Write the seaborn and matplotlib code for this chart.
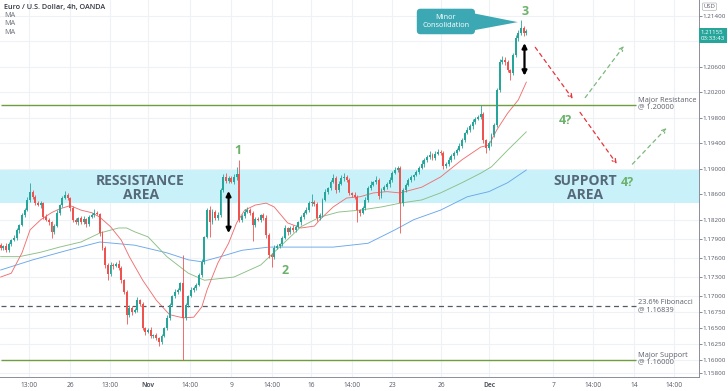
import matplotlib
matplotlib.use("Agg")
import numpy as np
import pandas as pd
import matplotlib.pyplot as plt
import seaborn as sns

# EUR/USD 4h candles (one close per bar, open = previous close)
first_open = 1.1780
closes = [
    1.1776, 1.1779, 1.1772, 1.1782, 1.1788, 1.1791, 1.1804, 1.1812, 1.1827, 1.1835,
    1.1851, 1.1864, 1.1856, 1.1846, 1.1843, 1.1846, 1.1824, 1.1820, 1.1816, 1.1801,
    1.1810, 1.1831, 1.1843, 1.1854, 1.1859, 1.1854, 1.1838, 1.1820, 1.1816, 1.1823,
    1.1816, 1.1821, 1.1813, 1.1824, 1.1827, 1.1831, 1.1829, 1.1799, 1.1776, 1.1749,
    1.1735, 1.1749, 1.1747, 1.1751, 1.1744, 1.1725, 1.1707, 1.1671, 1.1682, 1.1675,
    1.1678, 1.1694, 1.1688, 1.1650, 1.1644, 1.1647, 1.1638, 1.1639, 1.1634, 1.1628,
    1.1638, 1.1650, 1.1666, 1.1686, 1.1700, 1.1707, 1.1710, 1.1721, 1.1666, 1.1686,
    1.1700, 1.1710, 1.1713, 1.1718, 1.1733, 1.1754, 1.1793, 1.1835, 1.1816, 1.1832,
    1.1823, 1.1827, 1.1867, 1.1887, 1.1881, 1.1885, 1.1879, 1.1887, 1.1892, 1.1820,
    1.1826, 1.1832, 1.1835, 1.1831, 1.1812, 1.1821, 1.1820, 1.1827, 1.1823, 1.1796,
    1.1765, 1.1762, 1.1776, 1.1779, 1.1782, 1.1791, 1.1807, 1.1801, 1.1807, 1.1804,
    1.1809, 1.1816, 1.1824, 1.1831, 1.1835, 1.1846, 1.1848, 1.1845, 1.1823, 1.1827,
    1.1851, 1.1864, 1.1870, 1.1879, 1.1885, 1.1867, 1.1876, 1.1885, 1.1887, 1.1882,
    1.1862, 1.1859, 1.1856, 1.1835, 1.1831, 1.1838, 1.1851, 1.1870, 1.1875, 1.1879,
    1.1882, 1.1857, 1.1867, 1.1871, 1.1876, 1.1882, 1.1893, 1.1898, 1.1901, 1.1846,
    1.1867, 1.1875, 1.1882, 1.1887, 1.1890, 1.1895, 1.1901, 1.1907, 1.1914, 1.1918,
    1.1922, 1.1917, 1.1923, 1.1926, 1.1925, 1.1904, 1.1907, 1.1914, 1.1920, 1.1925,
    1.1929, 1.1936, 1.1945, 1.1956, 1.1961, 1.1967, 1.1973, 1.1978, 1.1981, 1.1986,
    1.1945, 1.1933, 1.1940, 1.1953, 1.1969, 1.2024, 1.2067, 1.2071, 1.2067, 1.2055,
    1.2050, 1.2078, 1.2105, 1.2113, 1.2120, 1.2113, 1.2116,
]
# wick lengths in pips above / below the body
upper_wick = [
    3, 2, 4, 3, 2, 5, 3, 2, 4, 3,   4, 14, 3, 2, 4, 3, 2, 5, 3, 2,
    3, 4, 2, 3, 6, 3, 2, 4, 3, 2,   3, 5, 2, 3, 4, 6, 3, 2, 3, 2,
    3, 4, 3, 2, 5, 3, 2, 3, 4, 2,   3, 4, 2, 3, 2, 3, 4, 2, 3, 2,
    3, 2, 4, 3, 2, 5, 3, 2, 44, 3,  2, 4, 3, 2, 3, 4, 2, 3, 6, 4,
    3, 5, 3, 4, 6, 3, 4, 5, 10, 22, 3, 4, 5, 3, 2, 4, 3, 2, 3, 4,
    3, 2, 4, 3, 2, 3, 5, 2, 3, 4,   3, 2, 4, 3, 5, 4, 12, 3, 2, 4,
    3, 4, 2, 3, 6, 3, 4, 5, 7, 3,   3, 2, 4, 3, 2, 3, 4, 3, 5, 2,
    6, 3, 2, 4, 3, 5, 3, 4, 4, 3,   3, 2, 4, 3, 2, 3, 4, 6, 3, 4,
    5, 3, 4, 5, 3, 2, 3, 4, 3, 2,   3, 4, 3, 2, 4, 3, 5, 3, 4, 14,
    3, 2, 4, 3, 2, 3, 5, 6, 4, 3,   2, 3, 4, 5, 13, 4, 3,
]
lower_wick = [
    3, 4, 2, 3, 4, 2, 3, 5, 2, 3,   2, 3, 4, 3, 2, 4, 3, 2, 4, 10,
    3, 2, 4, 3, 2, 3, 4, 3, 2, 5,   3, 2, 4, 3, 2, 3, 2, 4, 3, 5,
    10, 3, 4, 2, 3, 4, 3, 15, 3, 4, 2, 3, 4, 3, 5, 2, 3, 4, 3, 6,
    3, 2, 3, 4, 2, 3, 4, 2, 66, 3,  3, 2, 4, 3, 2, 3, 4, 2, 23, 3,
    4, 3, 2, 3, 4, 3, 2, 3, 4, 3,   3, 4, 2, 3, 25, 3, 2, 4, 3, 4,
    5, 16, 3, 2, 4, 3, 2, 5, 3, 4,  3, 2, 4, 3, 2, 3, 4, 3, 5, 3,
    3, 2, 4, 3, 2, 5, 3, 2, 4, 3,   3, 4, 3, 19, 5, 2, 3, 4, 3, 2,
    3, 4, 3, 2, 3, 4, 3, 2, 3, 47,  4, 3, 2, 3, 4, 2, 3, 2, 4, 3,
    3, 4, 3, 2, 3, 4, 3, 2, 3, 4,   3, 2, 4, 3, 2, 3, 4, 3, 2, 3,
    4, 8, 3, 4, 3, 4, 3, 2, 4, 3,   11, 3, 2, 4, 3, 5, 3,
]

# moving averages (bar index, value) read at knots along each line
ma_fast_bar = [0, 4, 8, 11, 15, 19, 22, 26, 30, 34, 37, 41, 45, 48, 53, 58, 63, 68, 72, 75, 77, 81, 85,
               88, 91, 95, 99, 102, 107, 112, 117, 119, 124, 129, 134, 139, 144, 149, 157, 164, 172,
               179, 182, 185, 189, 193, 196]
ma_fast = [1.1730, 1.1736, 1.1768, 1.1804, 1.1820, 1.1831, 1.1837, 1.1842, 1.1835, 1.1831, 1.1824,
           1.1809, 1.1788, 1.1762, 1.1725, 1.1694, 1.1671, 1.1666, 1.1667, 1.1683, 1.1710, 1.1752,
           1.1783, 1.1815, 1.1835, 1.1843, 1.1846, 1.1840, 1.1815, 1.1807, 1.1810, 1.1820, 1.1840,
           1.1854, 1.1856, 1.1862, 1.1864, 1.1862, 1.1871, 1.1887, 1.1914, 1.1934, 1.1937, 1.1961,
           1.1987, 1.2008, 1.2036]
ma_mid_bar = [0, 7, 15, 22, 30, 37, 44, 47, 50, 55, 62, 70, 76, 87, 97, 104, 112, 119, 126, 134, 142,
              149, 157, 164, 172, 179, 183, 189, 196]
ma_mid = [1.1762, 1.1762, 1.1769, 1.1777, 1.1785, 1.1799, 1.1807, 1.1807, 1.1801, 1.1793, 1.1762,
          1.1736, 1.1725, 1.1730, 1.1749, 1.1777, 1.1809, 1.1824, 1.1832, 1.1835, 1.1840, 1.1846,
          1.1851, 1.1862, 1.1878, 1.1893, 1.1903, 1.1929, 1.1958]
ma_slow_bar = [0, 12, 25, 37, 50, 62, 70, 75, 82, 90, 100, 112, 124, 137, 147, 154, 164, 174, 182, 189, 196]
ma_slow = [1.1741, 1.1757, 1.1772, 1.1785, 1.1780, 1.1768, 1.1757, 1.1754, 1.1762, 1.1772, 1.1777,
           1.1777, 1.1777, 1.1783, 1.1804, 1.1820, 1.1835, 1.1856, 1.1864, 1.1878, 1.1898]

x_tick_labels = ['13:00', '26', '13:00', 'Nov', '14:00', '9', '14:00', '16', '14:00', '23', '26',
                 'Dec', '7', '14:00', '14', '14:00']
y_tick_values = [1.214, 1.206, 1.202, 1.198, 1.194, 1.190, 1.186, 1.182, 1.179, 1.176, 1.173,
                 1.170, 1.1675, 1.165, 1.1625, 1.160, 1.158]
y_tick_labels = ['1.21400', '1.20600', '1.20200', '1.19800', '1.19400', '1.19000', '1.18600',
                 '1.18200', '1.17900', '1.17600', '1.17300', '1.17000', '1.16750', '1.16500',
                 '1.16250', '1.16000', '1.15800']

resistance_level = 1.20000
support_level = 1.16000
fib_level = 1.16839
zone_low, zone_high = 1.18463, 1.18980
last_price = 1.21155

UP, DOWN = '#26a69a', '#ef5350'
GREEN_TXT = '#6cb26c'
TEAL = '#3ba8b4'

sns.set_style('white')
plt.rcParams['font.family'] = ['Open Sans', 'DejaVu Sans']

df = pd.DataFrame({'close': closes})
df['open'] = df['close'].shift(1).fillna(first_open)
df['high'] = df[['open', 'close']].max(axis=1) + np.array(upper_wick) / 10000
df['low'] = df[['open', 'close']].min(axis=1) - np.array(lower_wick) / 10000
df['bar'] = np.arange(len(df))
df['color'] = np.where(df['close'] >= df['open'], UP, DOWN)

fig = plt.figure(figsize=(7.28, 3.91), dpi=100)
ax = fig.add_axes([0.0, 0.036, 0.960, 0.964])

# support / resistance zone
ax.axhspan(zone_low, zone_high, color='#c9f1f9', zorder=0.5, lw=0)

# grid
x_ticks = [10.7, 26, 40.9, 55.1, 70.7, 86, 101.3, 115.8, 131.1, 146, 164.3, 182.2, 206, 220.9, 236.2, 251.1]
for xt in x_ticks:
    ax.axvline(xt, color='#eef1f6', lw=0.8, zorder=0.2)
for yt in y_tick_values + [1.210]:
    ax.axhline(yt, color='#eef1f6', lw=0.8, zorder=0.2)

# candles
ax.vlines(df['bar'], df['low'], df['high'], colors=df['color'], lw=0.6, zorder=3)
body = (df['close'] - df['open']).abs().clip(lower=0.00006)
ax.bar(df['bar'], body, bottom=df[['open', 'close']].min(axis=1), width=0.72,
       color=df['color'], linewidth=0, zorder=3)

# moving averages
sns.lineplot(x=ma_slow_bar, y=ma_slow, ax=ax, color='#6aa8ea', lw=0.65, zorder=2)
sns.lineplot(x=ma_mid_bar, y=ma_mid, ax=ax, color='#8cbf86', lw=0.65, zorder=2)
sns.lineplot(x=ma_fast_bar, y=ma_fast, ax=ax, color='#f07070', lw=0.65, zorder=2)

# key levels
line_end = 236.7
ax.hlines(resistance_level, 0, line_end, color='#6e9e40', lw=1.0, zorder=2.5)
ax.hlines(support_level, 0, line_end, color='#6e9e40', lw=1.0, zorder=2.5)
ax.hlines(fib_level, 0, line_end, color='#555a66', lw=0.9, linestyles=(0, (4, 3)), zorder=2.5)
lbl = dict(fontsize=5.3, color='#5d606b', va='center', ha='left', linespacing=1.0)
ax.text(237.6, resistance_level + 0.0002, 'Major Resistance\n@ 1.20000', **lbl)
ax.text(237.6, fib_level + 0.0001, '23.6% Fibonacci\n@ 1.16839', **lbl)
ax.text(237.6, support_level + 0.0002, 'Major Support\n@ 1.16000', **lbl)

# zone labels
zone_txt = dict(fontsize=10, color='#55697a', fontweight='bold', ha='center', va='center',
                linespacing=1.0, zorder=4)
ax.text(52.2, 1.1870, 'RESSISTANCE\nAREA', **zone_txt)
ax.text(218.0, 1.1870, 'SUPPORT\nAREA', **zone_txt)

# wave counts
wave = dict(fontsize=9, color=GREEN_TXT, fontweight='bold', ha='center', va='center', zorder=5)
ax.text(88.3, 1.1929, '1', **wave)
ax.text(106.2, 1.1741, '2', **wave)
ax.text(195.7, 1.2146, '3', **wave)
ax.text(210.6, 1.1976, '4?', **wave)
ax.text(233.7, 1.1879, '4?', **wave)

# double arrows
dbl = dict(arrowstyle='<|-|>', color='black', lw=1.6, mutation_scale=7, shrinkA=0, shrinkB=0)
ax.annotate('', xy=(85, 1.1799), xytext=(85, 1.1865), arrowprops=dbl, zorder=6)
ax.annotate('', xy=(195.3, 1.2046), xytext=(195.3, 1.2097), arrowprops=dbl, zorder=6)

# projected paths
red_arr = dict(arrowstyle='->', color='#e8343a', lw=0.9, linestyle=(0, (3, 3)), mutation_scale=7)
grn_arr = dict(arrowstyle='->', color='#7cb87c', lw=0.9, linestyle=(0, (3, 3)), mutation_scale=7)
ax.annotate('', xy=(213.9, 1.2006), xytext=(198.7, 1.2094), arrowprops=red_arr)
ax.annotate('', xy=(230.3, 1.1904), xytext=(215.4, 1.1992), arrowprops=red_arr)
ax.annotate('', xy=(233.0, 1.2096), xytext=(217.3, 1.2008), arrowprops=grn_arr)
ax.annotate('', xy=(249.0, 1.1967), xytext=(234.8, 1.1904), arrowprops=grn_arr)

# callout
ax.fill([175.5, 175.5, 192.8], [1.21445, 1.21165, 1.2130], color=TEAL, lw=0, zorder=6)
ax.text(166.0, 1.2131, 'Minor\nConsolidation', fontsize=5.3, color='white', ha='center',
        va='center', linespacing=1.1, zorder=7,
        bbox=dict(boxstyle='round,pad=0.75,rounding_size=0.5', fc=TEAL, ec='none'))

# axes styling
ax.set_xlim(-0.2, 260.3)
ax.set_ylim(1.15733, 1.21647)
ax.set_xticks(x_ticks)
ax.set_xticklabels(x_tick_labels)
for t in ax.get_xticklabels():
    if t.get_text() in ('Nov', 'Dec'):
        t.set_fontweight('bold')
ax.yaxis.tick_right()
ax.set_yticks(y_tick_values)
ax.set_yticklabels(y_tick_labels)
ax.tick_params(axis='both', labelsize=4.5, colors='#555a66', length=1.8, width=0.5, pad=1)
ax.tick_params(axis='x', length=0, pad=4, labelsize=4.8)
ax.set_xlabel('')
ax.set_ylabel('')
for side in ('left', 'top'):
    ax.spines[side].set_visible(False)
for side in ('right', 'bottom'):
    ax.spines[side].set_color('#8a8e99')
    ax.spines[side].set_linewidth(0.7)

# last price tag
ax.annotate('1.21155\n03:33:43', xy=(1.0, last_price), xycoords=('axes fraction', 'data'),
            xytext=(1.5, -3), textcoords='offset points', fontsize=4.4, color='white',
            ha='left', va='center', linespacing=1.35, annotation_clip=False,
            bbox=dict(boxstyle='square,pad=0.25', fc='#26a69a', ec='none'))
fig.text(0.9745, 0.983, 'USD', fontsize=4.2, color='#555a66', ha='center', va='center',
         bbox=dict(boxstyle='round,pad=0.2', fc='white', ec='#b0b3bb', lw=0.5))

# header
fig.text(0.006, 0.982, 'Euro / U.S. Dollar, 4h, OANDA', fontsize=5.2, color='#333740',
         fontweight='semibold', ha='left', va='center')
for k in range(3):
    fig.text(0.006, 0.960 - k * 0.021, 'MA', fontsize=5.2, color='#6a6e78', ha='left', va='center')

fig.savefig('out.png', dpi=100)
